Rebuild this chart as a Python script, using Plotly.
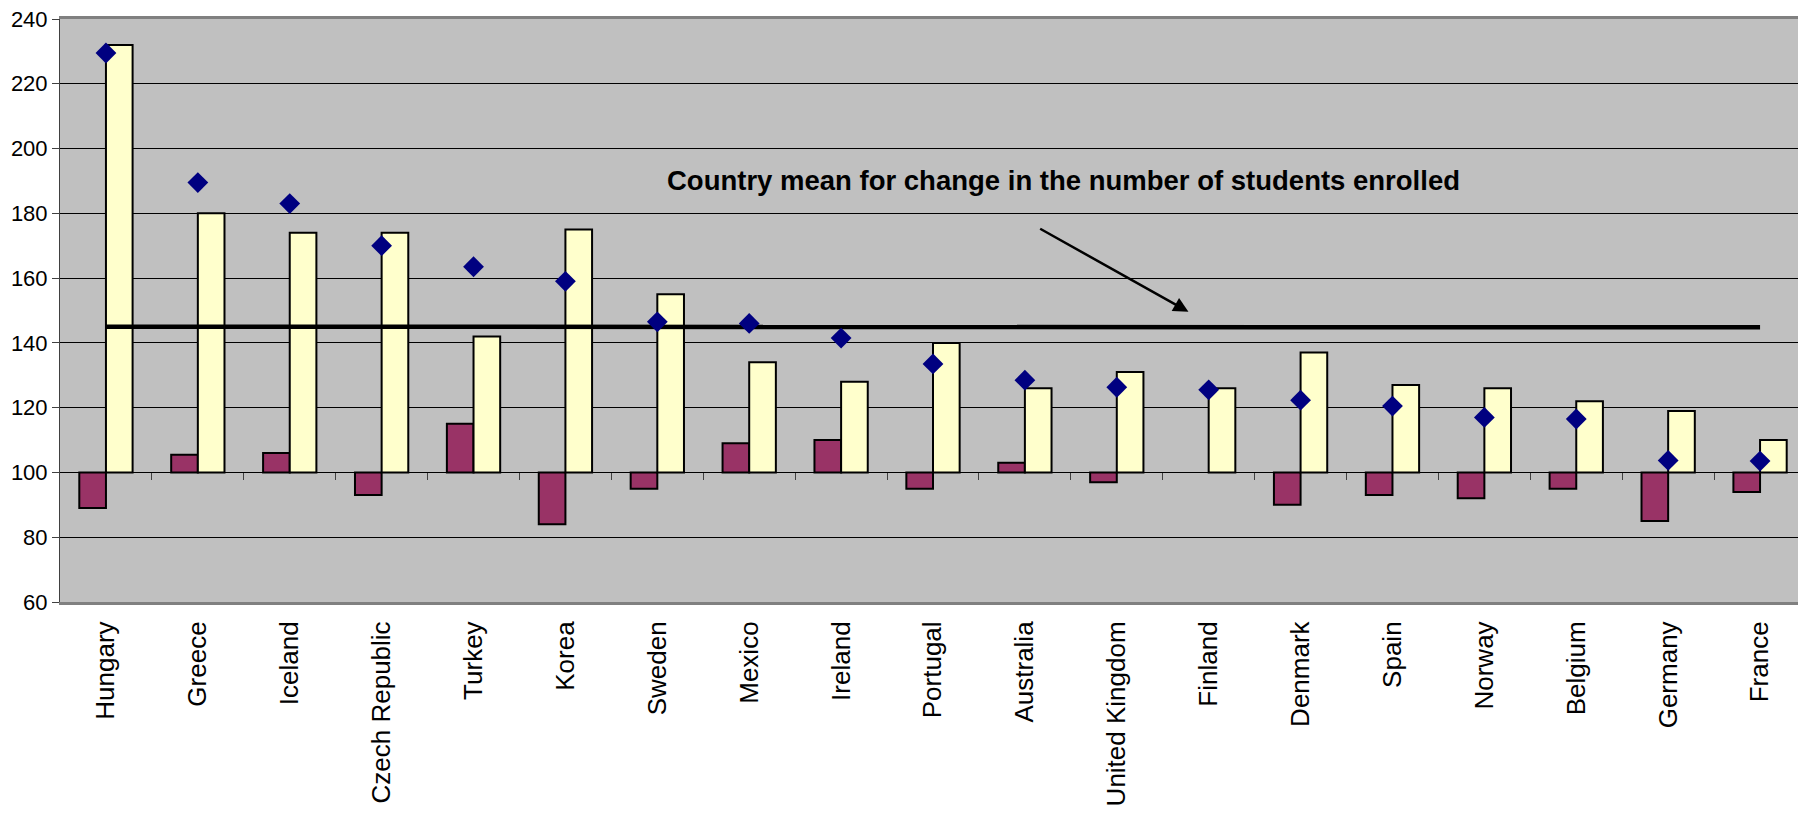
import plotly.graph_objects as go

countries = ["Hungary", "Greece", "Iceland", "Czech Republic", "Turkey", "Korea", "Sweden",
             "Mexico", "Ireland", "Portugal", "Australia", "United Kingdom", "Finland",
             "Denmark", "Spain", "Norway", "Belgium", "Germany", "France"]

# index values (base = 100)
change_burgundy = [89, 105.5, 106, 93, 115, 84, 95, 109, 110, 95, 103, 97, 100, 90, 93, 92, 95, 85, 94]
change_yellow = [232, 180, 174, 174, 142, 175, 155, 134, 128, 140, 126, 131, 126, 137, 127, 126, 122, 119, 110]
change_students = [229.5, 189.5, 183, 170, 163.5, 159, 146.5, 146, 141.5, 133.5, 128.5, 126.3,
                   125.5, 122.3, 120.5, 117, 116.5, 103.7, 103.5]
country_mean = [145, 145, 145, 145, 145, 145, 145, 145, 145, 145, 145, 145, 145, 145, 145, 145, 145, 145, 144.8]

BASE = 100
Y_MIN, Y_MAX = 60, 240


def rel(vals):
    return [None if v == BASE else v - BASE for v in vals]


fig = go.Figure()

fig.add_trace(go.Bar(
    x=countries, y=rel(change_burgundy), base=BASE,
    marker=dict(color="#993366", line=dict(color="black", width=2)),
    name="series1", offsetgroup="a"))
fig.add_trace(go.Bar(
    x=countries, y=rel(change_yellow), base=BASE,
    marker=dict(color="#FFFFCC", line=dict(color="black", width=2)),
    name="series2", offsetgroup="b"))
fig.add_trace(go.Scatter(
    x=countries, y=country_mean, mode="lines",
    line=dict(color="black", width=4.5), name="mean"))
fig.add_trace(go.Scatter(
    x=countries, y=change_students, mode="markers",
    marker=dict(symbol="diamond", size=16, color="#000080", line=dict(width=0)),
    name="students"))

# invisible trace to create axis x2 for the tick marks on the 100 line
fig.add_trace(go.Scatter(x=[0], y=[BASE], xaxis="x2", mode="markers",
                         marker=dict(opacity=0), hoverinfo="skip", showlegend=False))

fig.update_layout(
    width=1798, height=807,
    margin=dict(l=52, r=0, t=11, b=213, autoexpand=False),
    paper_bgcolor="white", plot_bgcolor="#C0C0C0",
    barmode="group", bargap=0.42, bargroupgap=0,
    showlegend=False,
    font=dict(family="Liberation Sans, Arial, sans-serif", color="black"),
    xaxis=dict(
        type="category", range=[-0.5, len(countries) - 0.5], automargin=False,
        tickangle=-90, tickfont=dict(size=26), ticks="", ticklabelstandoff=6,
        ticklabeloverflow="allow",
        showgrid=False, showline=True, linecolor="#808080", linewidth=3, mirror=True,
        zeroline=False),
    xaxis2=dict(
        overlaying="x", anchor="free", automargin=False,
        position=(BASE - Y_MIN) / (Y_MAX - Y_MIN),
        range=[-0.5, len(countries) - 0.5],
        tickmode="array", tickvals=[i + 0.5 for i in range(len(countries) - 1)],
        ticks="outside", ticklen=7, tickcolor="#404040", tickwidth=1,
        showticklabels=False, showgrid=False, showline=False, zeroline=False),
    yaxis=dict(
        range=[Y_MIN, Y_MAX], dtick=20, tick0=0, automargin=False,
        tickfont=dict(size=22), ticks="outside", ticklen=7, tickcolor="#404040",
        ticklabeloverflow="allow",
        showgrid=True, gridcolor="black", gridwidth=1,
        showline=True, linecolor="#404040", linewidth=1, mirror=False,
        zeroline=False),
)

fig.add_annotation(
    x=10.42, y=190, xref="x", yref="y",
    text="<b>Country mean for change in the number of students enrolled</b>",
    showarrow=False, font=dict(size=27.5, color="black"))
fig.add_annotation(
    x=11.78, y=149.6, xref="x", yref="y",
    ax=10.15, ay=175.5, axref="x", ayref="y",
    text="", showarrow=True, arrowhead=2, arrowsize=1.2, arrowwidth=2.5, arrowcolor="black")

fig.write_html("out.html")
